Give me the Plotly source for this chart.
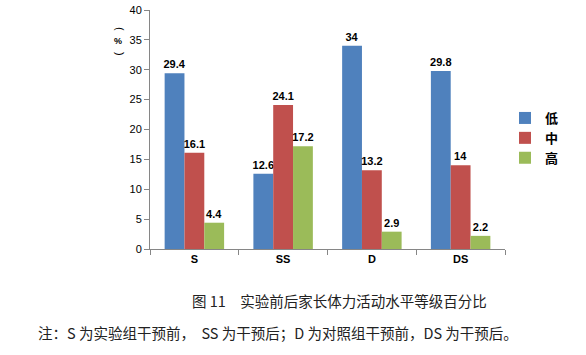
import plotly.graph_objects as go

categories = ["S", "SS", "D", "DS"]
low = [29.4, 12.6, 34, 29.8]
mid = [16.1, 24.1, 13.2, 14]
high = [4.4, 17.2, 2.9, 2.2]
series_names = ["低", "中", "高"]
colors = ["#4F81BD", "#C0504D", "#9BBB59"]
y_ticks = [0, 5, 10, 15, 20, 25, 30, 35, 40]

W, H = 586, 355
L, T = 150, 10
PW, PH = 355, 239
R, B = W - L - PW, H - T - PH
Y0 = T + PH  # pixel of y=0


def px_x(px):
    return (px - L) / PW


def px_y(py):
    return (Y0 - py) / PH


fig = go.Figure()
for name, vals, c in zip(series_names, [low, mid, high], colors):
    fig.add_trace(go.Bar(
        x=categories, y=vals, name=f"<b>{name}</b>", marker_color=c, marker_line_width=0,
        text=[f"{v:g}" for v in vals], textposition="outside", cliponaxis=False,
        textfont=dict(family="Liberation Sans", size=11, color="black"),
        texttemplate="<b>%{text}</b>", legendgroup=name, hoverinfo="skip",
    ))

fig.update_layout(
    width=W, height=H,
    margin=dict(l=L, r=R, t=T, b=B, autoexpand=False),
    paper_bgcolor="white", plot_bgcolor="white",
    barmode="group", bargap=0.33, bargroupgap=0,
    uniformtext=dict(minsize=11, mode="show"),
    font=dict(family="Liberation Sans", color="black"),
    legend=dict(x=px_x(505), y=px_y(138), xanchor="left", yanchor="middle",
                font=dict(family="Noto Sans CJK SC", size=13, color="black"),
                itemwidth=30, tracegroupgap=0),
    showlegend=True,
)
fig.update_xaxes(
    type="category", showline=True, linecolor="#868686", linewidth=1,
    ticks="outside", tickson="boundaries", ticklen=5, tickcolor="#868686",
    tickfont=dict(family="Liberation Sans", size=11, color="black"),
    tickprefix="<b>", ticksuffix="</b>", showgrid=False,
)
fig.update_yaxes(
    range=[0, 40], tickvals=y_ticks, showline=True, linecolor="#868686", linewidth=1,
    ticks="outside", ticklen=5, tickcolor="#868686", showgrid=False, zeroline=False,
    tickfont=dict(family="Liberation Sans", size=11, color="black"),
    tickprefix="<b>", ticksuffix="</b>", ticklabeloverflow="allow",
)
for txt, py, ang, sz in [("(", 29, 90, 11), ("<b>%</b>", 41, 0, 9), (")", 54, 90, 11)]:
    fig.add_annotation(
        text=txt, xref="paper", yref="paper", textangle=ang,
        x=px_x(112), y=px_y(py), yanchor="middle", showarrow=False,
        font=dict(family="Liberation Sans", size=sz, color="black"),
    )
fig.add_annotation(
    text="图 11　实验前后家长体力活动水平等级百分比", xref="paper", yref="paper",
    x=px_x(190), y=px_y(300), xanchor="left", yanchor="middle",
    showarrow=False,
    font=dict(family="Noto Sans CJK SC", size=14.5, color="#222222"),
)
fig.add_annotation(
    text="注：S 为实验组干预前，  SS 为干预后；D 为对照组干预前，DS 为干预后。", xref="paper", yref="paper",
    x=px_x(36), y=px_y(332), xanchor="left", yanchor="middle",
    showarrow=False,
    font=dict(family="Noto Sans CJK SC", size=14.5, color="#222222"),
)

fig.write_html(
    "out.html",
    config={"displayModeBar": False, "staticPlot": True},
    post_script="document.body.style.margin='0';document.body.style.overflow='hidden';",
)
